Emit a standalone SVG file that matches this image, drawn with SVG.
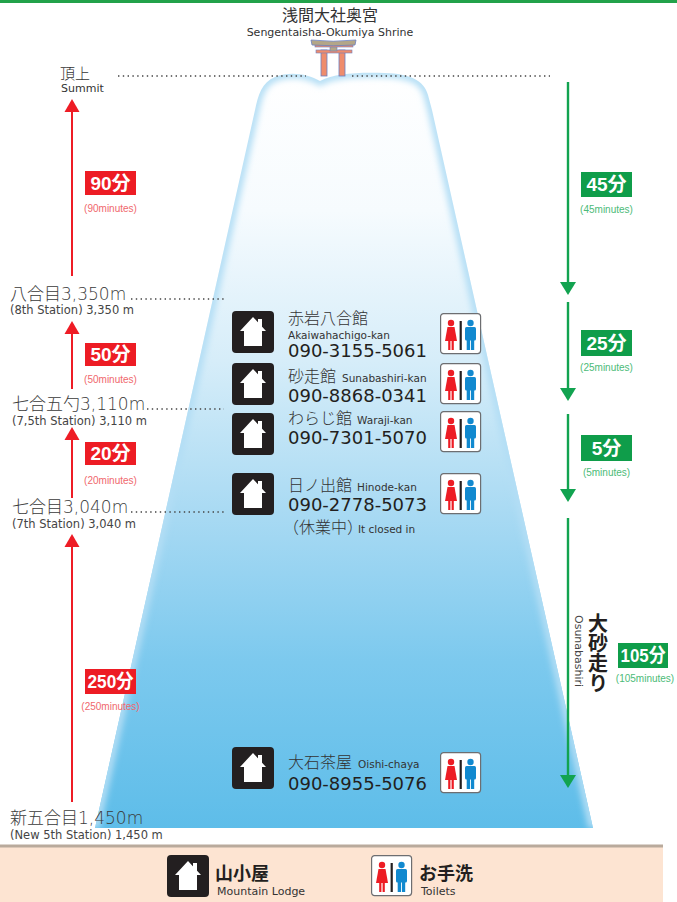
<svg xmlns="http://www.w3.org/2000/svg" xmlns:xlink="http://www.w3.org/1999/xlink" width="677" height="902" viewBox="0 0 677 902">
  <defs>
    <style>
      .jp { font-family: "DejaVu Sans", "Noto Sans CJK JP", sans-serif; fill: #333; }
      .stn { font-family: "DejaVu Sans", "Noto Sans CJK JP", sans-serif; font-size: 17px; font-weight: 300; fill: #3a3a3a; }
      .stn-en { font-family: "DejaVu Sans", sans-serif; font-size: 11.5px; fill: #444; }
      .name { font-family: "Noto Sans CJK JP", sans-serif; font-size: 16px; font-weight: 300; fill: #333; }
      .name-en { font-family: "DejaVu Sans", sans-serif; font-size: 10.5px; fill: #333; }
      .tel { font-family: "DejaVu Sans", sans-serif; font-size: 18px; fill: #231f20; }
      .box-t { font-family: "Liberation Sans", "Noto Sans CJK JP", sans-serif; font-size: 19px; font-weight: bold; fill: #fff; text-anchor: middle; }
      .min-r { font-family: "Liberation Sans", sans-serif; font-size: 10px; fill: #f0686c; text-anchor: middle; }
      .min-g { font-family: "Liberation Sans", sans-serif; font-size: 10px; fill: #4cbb78; text-anchor: middle; }
      .dots { stroke: #444; stroke-width: 1.4; stroke-dasharray: 1.4 3.4; fill: none; }
      .red-line { stroke: #ee1c25; stroke-width: 2; fill: none; }
      .green-line { stroke: #12a350; stroke-width: 2.4; fill: none; }
      .leg { font-family: "Noto Sans CJK JP", sans-serif; font-size: 18px; font-weight: bold; fill: #231f20; }
      .leg-en { font-family: "DejaVu Sans", sans-serif; font-size: 11px; fill: #333; }
    </style>
    <linearGradient id="mt-fill" gradientUnits="userSpaceOnUse" x1="0" y1="75" x2="0" y2="828">
      <stop offset="0" stop-color="#ffffff"/>
      <stop offset="0.18" stop-color="#f6fbfe"/>
      <stop offset="0.38" stop-color="#d6edf9"/>
      <stop offset="0.58" stop-color="#a9daf3"/>
      <stop offset="0.78" stop-color="#7cc9ee"/>
      <stop offset="1" stop-color="#5ebde9"/>
    </linearGradient>
    <clipPath id="mt-clip">
      <path d="M95,828 L255,110 C258,95 262,82 275,77 C290,71 308,74 320,81 C335,73 360,72 385,73 C410,74 424,80 428,95 L432,110 L593,828 Z"/>
    </clipPath>
    <filter id="soft" x="-10%" y="-10%" width="120%" height="120%">
      <feGaussianBlur stdDeviation="3"/>
    </filter>
    <g id="hut-icon">
      <rect width="42" height="42" rx="4" fill="#231f20"/>
      <path d="M21,6 L34,20 L30,20 L30,35 L12,35 L12,20 L8,20 Z" fill="#fff"/>
      <rect x="26" y="8" width="4" height="8" fill="#fff"/>
    </g>
    <g id="toilet-icon">
      <rect x="0.6" y="0.6" width="40" height="40" rx="3" fill="#fff" stroke="#6d6e71" stroke-width="1.2"/>
      <circle cx="11" cy="10" r="3.2" fill="#ed1c24"/>
      <path d="M7.5,14 H14.5 L17,28 H5 Z" fill="#ed1c24"/>
      <rect x="8.2" y="27.5" width="2.2" height="9.5" fill="#ed1c24"/>
      <rect x="11.6" y="27.5" width="2.2" height="9.5" fill="#ed1c24"/>
      <rect x="19.6" y="8" width="2.2" height="29" fill="#231f20"/>
      <circle cx="30.5" cy="10" r="3.2" fill="#1189cf"/>
      <rect x="25" y="14" width="11" height="13.5" rx="1.5" fill="#1189cf"/>
      <rect x="26.7" y="27" width="3.3" height="10" fill="#1189cf"/>
      <rect x="30.9" y="27" width="3.3" height="10" fill="#1189cf"/>
    </g>
  </defs>

  <!-- background and frame -->
  <rect width="677" height="902" fill="#fff"/>
  <rect x="0" y="0" width="677" height="3" fill="#22a24a"/>

  <!-- mountain -->
  <g id="mountain">
    <path d="M95,828 L255,110 C258,95 262,82 275,77 C290,71 308,74 320,81 C335,73 360,72 385,73 C410,74 424,80 428,95 L432,110 L593,828 Z" fill="url(#mt-fill)"/>
    <g clip-path="url(#mt-clip)">
      <path d="M95,828 L255,110 C258,95 262,82 275,77 C290,71 308,74 320,81 C335,73 360,72 385,73 C410,74 424,80 428,95 L432,110 L593,828" fill="none" stroke="#b3def5" stroke-width="9" filter="url(#soft)"/>
    </g>
  </g>

  <!-- summit shrine -->
  <g id="shrine">
    <text class="jp" x="330" y="21" font-size="16" text-anchor="middle">浅間大社奥宮</text>
    <text class="jp" x="330" y="36" font-size="11" text-anchor="middle" style="font-family:'DejaVu Sans',sans-serif">Sengentaisha-Okumiya Shrine</text>
    <rect x="321" y="50" width="6" height="26" fill="#ef8c6c" stroke="#6b7fc2" stroke-width="0.8"/>
    <rect x="339" y="50" width="6" height="26" fill="#ef8c6c" stroke="#6b7fc2" stroke-width="0.8"/>
    <rect x="316" y="50" width="36" height="3" fill="#ef8c6c" stroke="#6b7fc2" stroke-width="0.6"/>
    <rect x="330" y="45" width="7" height="6" fill="#b3a688" stroke="#6b7fc2" stroke-width="0.6"/>
    <rect x="315" y="44.5" width="38" height="2.5" fill="#ef8c6c" stroke="#6b7fc2" stroke-width="0.6"/>
    <path d="M311,40 Q333,42.5 356,40 L355,45 Q333,46.5 312,45 Z" fill="#b3a688" stroke="#6b7fc2" stroke-width="0.8"/>
  </g>

  <!-- summit and station levels -->
  <g id="summit">
    <text class="jp" x="60" y="79" font-size="15" font-weight="300">頂上</text>
    <text class="jp" x="61" y="92" font-size="11" style="font-family:'DejaVu Sans',sans-serif">Summit</text>
    <line class="dots" x1="118" y1="76" x2="306" y2="76"/>
    <line class="dots" x1="352" y1="76" x2="550" y2="76"/>
  </g>
  <g id="station-8">
    <text class="stn" x="10" y="300">八合目3,350m</text>
    <line class="dots" x1="131" y1="299" x2="226" y2="299"/>
    <text class="stn-en" x="10" y="314">(8th Station) 3,350 m</text>
  </g>
  <g id="station-7-5">
    <text class="stn" x="12" y="410">七合五勺3,110m</text>
    <line class="dots" x1="147" y1="409" x2="224" y2="409"/>
    <text class="stn-en" x="12" y="425">(7,5th Station) 3,110 m</text>
  </g>
  <g id="station-7">
    <text class="stn" x="12" y="513">七合目3,040m</text>
    <line class="dots" x1="131" y1="512" x2="226" y2="512"/>
    <text class="stn-en" x="12" y="528">(7th Station) 3,040 m</text>
  </g>
  <g id="station-5">
    <text class="stn" x="10" y="824">新五合目1,450m</text>
    <text class="stn-en" x="10" y="839">(New 5th Station) 1,450 m</text>
  </g>

  <!-- ascent and descent arrows -->
  <g id="connectors">
    <line class="red-line" x1="72" y1="108" x2="72" y2="276"/>
    <path d="M64.5,112 L72,99 L79.5,112 Z" fill="#ee1c25"/>
    <line class="red-line" x1="72" y1="330" x2="72" y2="389"/>
    <path d="M64.5,334 L72,321 L79.5,334 Z" fill="#ee1c25"/>
    <line class="red-line" x1="72" y1="436" x2="72" y2="498"/>
    <path d="M64.5,440 L72,427 L79.5,440 Z" fill="#ee1c25"/>
    <line class="red-line" x1="72" y1="543" x2="72" y2="802"/>
    <path d="M64.5,547 L72,534 L79.5,547 Z" fill="#ee1c25"/>

    <line class="green-line" x1="568" y1="82" x2="568" y2="285"/>
    <path d="M560,282 L568,295 L576,282 Z" fill="#12a350"/>
    <line class="green-line" x1="568" y1="302" x2="568" y2="390"/>
    <path d="M560,388 L568,401 L576,388 Z" fill="#12a350"/>
    <line class="green-line" x1="568" y1="414" x2="568" y2="492"/>
    <path d="M560,489 L568,502 L576,489 Z" fill="#12a350"/>
    <line class="green-line" x1="568" y1="518" x2="568" y2="778"/>
    <path d="M560,775 L568,788 L576,775 Z" fill="#12a350"/>
  </g>

  <!-- ascent times -->
  <g id="time-90">
    <rect x="85" y="171" width="51" height="24" fill="#ed1c24"/>
    <text class="box-t" x="110.5" y="190">90分</text>
    <text class="min-r" x="110.5" y="212">(90minutes)</text>
  </g>
  <g id="time-50">
    <rect x="85" y="343" width="51" height="23" fill="#ed1c24"/>
    <text class="box-t" x="110.5" y="361">50分</text>
    <text class="min-r" x="110.5" y="383">(50minutes)</text>
  </g>
  <g id="time-20">
    <rect x="85" y="442" width="51" height="23" fill="#ed1c24"/>
    <text class="box-t" x="110.5" y="460">20分</text>
    <text class="min-r" x="110.5" y="484">(20minutes)</text>
  </g>
  <g id="time-250">
    <rect x="85" y="669" width="51" height="25" fill="#ed1c24"/>
    <text class="box-t" x="110.5" y="688" textLength="46" lengthAdjust="spacingAndGlyphs">250分</text>
    <text class="min-r" x="110.5" y="710">(250minutes)</text>
  </g>

  <!-- descent times -->
  <g id="time-45">
    <rect x="581" y="172" width="51" height="25" fill="#0f9d4a"/>
    <text class="box-t" x="606.5" y="191">45分</text>
    <text class="min-g" x="606.5" y="213">(45minutes)</text>
  </g>
  <g id="time-25">
    <rect x="581" y="330" width="51" height="26" fill="#0f9d4a"/>
    <text class="box-t" x="606.5" y="350">25分</text>
    <text class="min-g" x="606.5" y="371">(25minutes)</text>
  </g>
  <g id="time-5">
    <rect x="581" y="435" width="51" height="26" fill="#0f9d4a"/>
    <text class="box-t" x="606.5" y="455">5分</text>
    <text class="min-g" x="606.5" y="476">(5minutes)</text>
  </g>
  <g id="time-105">
    <rect x="618" y="643" width="50" height="25" fill="#0f9d4a"/>
    <text class="box-t" x="643" y="662" textLength="45" lengthAdjust="spacingAndGlyphs">105分</text>
    <text class="min-g" x="645" y="682">(105minutes)</text>
  </g>

  <!-- Osunabashiri sand run -->
  <g id="osunabashiri">
    <text x="598" y="613" style="writing-mode: vertical-rl" font-family="'Noto Sans CJK JP', sans-serif" font-size="20" font-weight="bold" fill="#231f20">大砂走り</text>
    <text transform="translate(575,615) rotate(90)" font-family="'DejaVu Sans', sans-serif" font-size="11" fill="#444">Osunabashiri</text>
  </g>

  <!-- mountain lodges -->
  <g id="lodge-akaiwa">
    <use xlink:href="#hut-icon" x="232" y="311"/>
    <text class="name" x="288" y="324">赤岩八合館</text>
    <text class="name-en" x="288" y="339">Akaiwahachigo-kan</text>
    <text class="tel" x="288" y="357">090-3155-5061</text>
    <use xlink:href="#toilet-icon" x="440" y="313"/>
  </g>
  <g id="lodge-sunabashiri">
    <use xlink:href="#hut-icon" x="232" y="363"/>
    <text class="name" x="288" y="382">砂走館</text>
    <text class="name-en" x="342" y="382">Sunabashiri-kan</text>
    <text class="tel" x="288" y="402">090-8868-0341</text>
    <use xlink:href="#toilet-icon" x="440" y="363"/>
  </g>
  <g id="lodge-waraji">
    <use xlink:href="#hut-icon" x="232" y="413"/>
    <text class="name" x="288" y="424">わらじ館</text>
    <text class="name-en" x="357" y="424">Waraji-kan</text>
    <text class="tel" x="288" y="444">090-7301-5070</text>
    <use xlink:href="#toilet-icon" x="440" y="411"/>
  </g>
  <g id="lodge-hinode">
    <use xlink:href="#hut-icon" x="232" y="473"/>
    <text class="name" x="288" y="491">日ノ出館</text>
    <text class="name-en" x="357" y="491">Hinode-kan</text>
    <text class="tel" x="288" y="511">090-2778-5073</text>
    <text class="name" x="283" y="533" font-size="14">（休業中）</text>
    <text class="name-en" x="358" y="533" font-size="11">It closed in</text>
    <use xlink:href="#toilet-icon" x="440" y="473"/>
  </g>
  <g id="lodge-oishi">
    <use xlink:href="#hut-icon" x="232" y="747"/>
    <text class="name" x="288" y="768">大石茶屋</text>
    <text class="name-en" x="358" y="768">Oishi-chaya</text>
    <text class="tel" x="288" y="790">090-8955-5076</text>
    <use xlink:href="#toilet-icon" x="440" y="752"/>
  </g>

  <!-- legend -->
  <g id="legend">
    <rect x="0" y="846" width="663" height="56" fill="#fde4d2"/>
    <rect x="0" y="844.5" width="663" height="3" fill="#b9aa9c"/>
    <use xlink:href="#hut-icon" x="167" y="855"/>
    <text class="leg" x="215" y="880">山小屋</text>
    <text class="leg-en" x="217" y="895">Mountain Lodge</text>
    <use xlink:href="#toilet-icon" x="371" y="855"/>
    <text class="leg" x="419" y="880">お手洗</text>
    <text class="leg-en" x="421" y="895">Toilets</text>
  </g>
</svg>
